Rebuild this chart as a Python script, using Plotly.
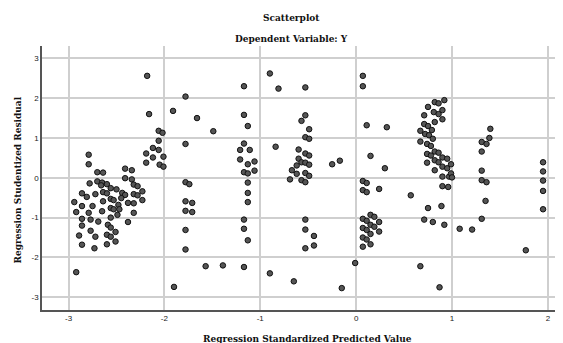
import plotly.graph_objects as go

# Data: standardized predicted value (x) and studentized residual (y)
pred = [
    -2.79,-2.79,-2.70,-2.64,-2.41,-2.34,-2.41,-2.34,-2.78,-2.70,-2.65,-2.60,-2.66,-2.32,-2.28,-2.23,
    -2.56,-2.50,-2.44,-2.64,-2.60,-2.72,-2.86,-2.81,-2.41,-2.32,-2.28,-2.45,-2.56,-2.53,-2.64,-2.23,
    -2.94,-2.38,-2.32,-2.48,-2.86,-2.75,-2.56,-2.53,-2.47,-2.65,-2.92,-2.79,-2.49,-2.32,-2.56,-2.86,
    -2.77,-2.69,-2.38,-2.59,-2.86,-2.56,-2.77,-2.51,-2.89,-2.60,-2.56,-2.72,-2.51,-2.86,-2.60,-2.73,-2.92,
    -2.18,-2.16,-2.06,-2.02,-2.06,-2.12,-2.06,-2.19,-2.12,-2.01,-2.19,-2.05,-2.01,
    -1.91,-1.90,-1.78,-1.66,-1.49,-1.78,-1.78,-1.74,-1.78,-1.71,-1.78,-1.71,-1.78,-1.78,-1.57,-1.39,
    -1.17,-1.17,-1.13,-1.17,-1.21,-1.11,-1.21,-1.06,-1.13,-1.17,-1.13,-1.06,-1.13,-1.13,-1.13,-1.17,-1.17,-1.13,-1.17,
    -0.90,-0.81,-0.84,-0.90,-0.65,
    -0.53,-0.53,-0.57,-0.49,-0.53,-0.49,-0.60,-0.53,-0.49,-0.60,-0.57,-0.53,-0.49,-0.62,-0.67,-0.62,-0.53,-0.49,
    -0.69,-0.57,-0.53,-0.53,-0.53,-0.44,-0.44,-0.53,
    -0.25,-0.17,-0.01,-0.15,
    0.07,0.07,0.11,0.32,0.15,0.30,0.07,0.11,0.07,0.11,0.24,0.57,0.15,0.19,0.07,0.11,0.24,0.15,0.19,0.07,0.11,
    0.24,0.15,0.07,0.11,0.15,0.07,0.67,
    0.82,0.86,0.92,0.75,0.81,0.86,0.90,0.71,0.82,0.90,0.71,0.75,0.79,0.67,0.72,0.76,0.80,0.67,0.74,0.78,
    0.82,0.86,0.74,0.78,0.90,0.95,0.82,0.86,0.74,0.90,0.95,0.99,0.82,0.90,0.97,0.99,1.00,0.90,0.96,0.75,
    0.89,0.71,0.80,0.92,0.87,
    1.31,1.36,1.39,1.40,1.31,1.31,1.31,1.36,1.35,1.31,1.08,1.21,1.77,
    1.95,1.95,1.95,1.95,1.95,
]
resid = [
    0.58,0.34,0.14,0.13,0.23,0.19,-0.01,-0.04,-0.14,-0.09,-0.12,-0.16,-0.19,-0.17,-0.21,-0.34,
    -0.26,-0.29,-0.38,-0.36,-0.39,-0.41,-0.39,-0.48,-0.43,-0.41,-0.44,-0.51,-0.53,-0.56,-0.59,-0.56,
    -0.61,-0.63,-0.64,-0.68,-0.71,-0.71,-0.76,-0.79,-0.79,-0.84,-0.86,-0.88,-0.93,-0.88,-1.00,-1.03,
    -1.05,-1.10,-1.11,-1.18,-1.20,-1.25,-1.33,-1.36,-1.45,-1.43,-1.48,-1.48,-1.60,-1.68,-1.67,-1.77,-2.37,
    2.56,1.60,1.18,1.13,0.93,0.75,0.70,0.61,0.51,0.53,0.38,0.33,0.28,
    1.68,-2.74,2.04,1.50,1.17,0.85,-0.11,-0.16,-0.59,-0.63,-0.83,-0.86,-1.31,-1.80,-2.22,-2.20,
    2.30,1.58,1.30,0.86,0.70,0.70,0.46,0.41,0.34,0.14,0.11,0.18,-0.12,-0.38,-0.61,-1.05,-1.28,-1.57,-2.24,
    2.62,2.24,0.78,-2.40,-2.60,
    2.27,1.57,1.43,1.22,1.02,0.98,0.71,0.61,0.56,0.48,0.39,0.38,0.33,0.31,0.19,0.10,0.12,0.05,
    -0.04,-0.06,-0.11,-1.05,-1.30,-1.46,-1.70,-1.77,
    0.34,0.43,-2.14,-2.77,
    2.56,2.30,1.32,1.27,0.55,0.24,-0.08,-0.13,-0.31,-0.36,-0.28,-0.44,-0.93,-0.98,-1.03,-1.08,-1.11,-1.18,-1.23,-1.26,-1.31,
    -1.35,-1.41,-1.50,-1.55,-1.67,-1.73,-2.22,
    1.90,1.87,1.95,1.78,1.65,1.60,1.70,1.57,1.40,1.47,1.35,1.30,1.20,1.18,1.10,1.07,0.98,0.91,0.85,0.80,
    0.66,0.63,0.60,0.56,0.51,0.48,0.44,0.39,0.38,0.28,0.24,0.34,0.19,0.03,0.03,0.11,0.01,-0.21,-0.23,-0.76,
    -0.71,-1.05,-1.11,-1.18,-2.75,
    0.90,0.85,1.00,1.23,0.66,0.18,-0.06,-0.11,-0.58,-1.03,-1.28,-1.30,-1.82,
    0.39,0.16,-0.07,-0.33,-0.79,
]

x_ticks = [-3, -2, -1, 0, 1, 2]
y_ticks = [-3, -2, -1, 0, 1, 2, 3]

title_main = "Scatterplot"
title_sub = "Dependent Variable: Y"
x_title = "Regression Standardized Predicted Value"
y_title = "Regression Studentized Residual"

serif = "DejaVu Serif"
sans = "Liberation Sans"

# the page body has an 8px margin, so the figure is drawn 8px smaller and offset
W, H = 555, 335
ML, MR, MT, MB = 34, 0, 38, 33
pw, ph = W - ML - MR, H - MT - MB


def px_to_paper(px, py):
    return (px - ML) / pw, ((H - py) - MB) / ph


fig = go.Figure()
fig.add_trace(go.Scatter(
    x=pred, y=resid, mode="markers",
    marker=dict(size=5.5, color="#555555", line=dict(color="#111111", width=1)),
    showlegend=False, hoverinfo="x+y",
))

annots = []
for text, (px, py), ang in [
    (title_main, (283, 10), 0),
    (title_sub, (283, 30.5), 0),
    (x_title, (299, 331), 0),
    (y_title, (9.5, 172), -90),
]:
    ax, ay = px_to_paper(px, py)
    annots.append(dict(text=f"<b>{text}</b>", x=ax, y=ay, xref="paper", yref="paper",
                       xanchor="center", yanchor="middle", showarrow=False, textangle=ang,
                       font=dict(family=serif, size=9, color="#111111")))

fig.update_layout(
    width=W, height=H,
    margin=dict(l=ML, r=MR, t=MT, b=MB, autoexpand=False),
    paper_bgcolor="white", plot_bgcolor="white",
    xaxis=dict(
        range=[-3.277, 2.158], tickvals=x_ticks, ticktext=[str(v) for v in x_ticks],
        showgrid=True, gridcolor="#cfcfcf", gridwidth=1.5, zeroline=False, automargin=False,
        showline=True, linecolor="#555555", linewidth=1.5, ticks="",
        tickfont=dict(family=sans, size=8, color="#222222"),
    ),
    yaxis=dict(
        range=[-3.32, 3.31], tickvals=y_ticks, ticktext=[str(v) for v in y_ticks],
        showgrid=True, gridcolor="#cfcfcf", gridwidth=1.5, zeroline=False, automargin=False,
        showline=True, linecolor="#555555", linewidth=1.5, ticks="",
        tickfont=dict(family=sans, size=8, color="#222222"),
    ),
    annotations=annots,
)

fig.write_html("out.html")
